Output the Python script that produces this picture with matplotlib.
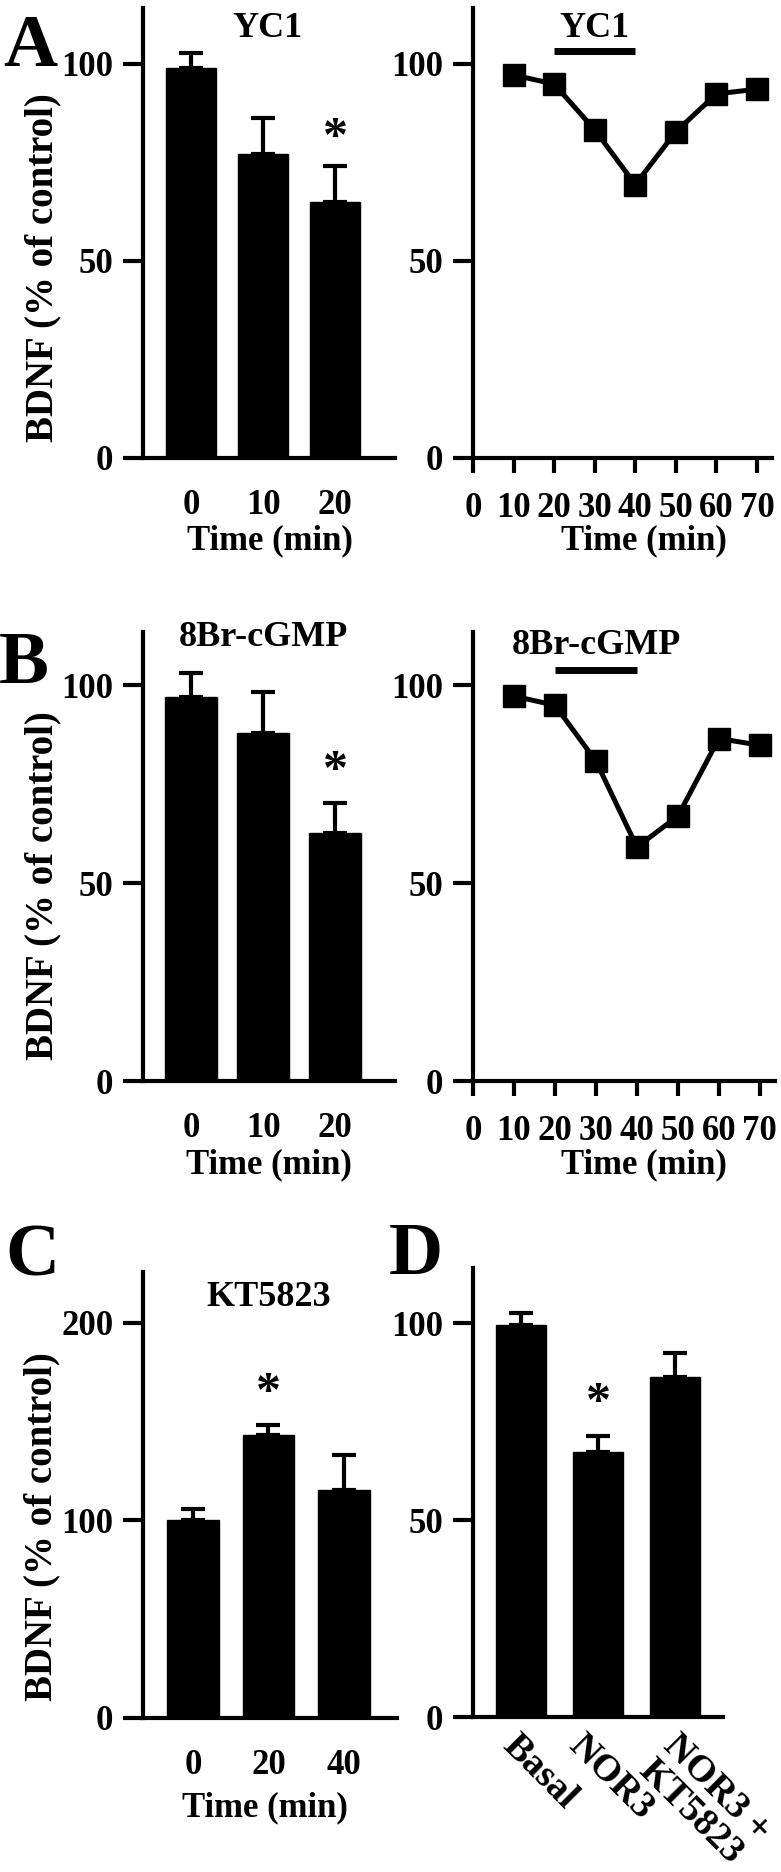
import matplotlib
matplotlib.use('Agg')
import matplotlib.pyplot as plt
from matplotlib.transforms import ScaledTranslation

plt.rcParams['font.family'] = ['Liberation Serif', 'DejaVu Serif']
plt.rcParams['font.weight'] = 'bold'
plt.rcParams['axes.labelweight'] = 'bold'

# ---------------- data ----------------
a_bar_labels = ['0', '10', '20']
a_bar_values = [99.0, 77.2, 64.9]
a_bar_errors = [3.7, 9.0, 9.3]

a_times = [10, 20, 30, 40, 50, 60, 70]
a_time_values = [97.2, 94.9, 83.3, 69.4, 82.8, 92.4, 93.6]

b_bar_labels = ['0', '10', '20']
b_bar_values = [97.0, 87.9, 62.7]
b_bar_errors = [6.0, 10.3, 7.5]

b_times = [10, 20, 30, 40, 50, 60, 70]
b_time_values = [97.2, 94.9, 80.8, 59.1, 66.9, 86.5, 84.8]

c_labels = ['0', '20', '40']
c_values = [100.0, 143.3, 115.3]
c_errors = [5.8, 5.1, 17.9]

d_labels = ['Basal', 'NOR3', 'NOR3 +\nKT5823']
d_values = [99.6, 67.3, 86.3]
d_errors = [3.1, 4.0, 6.1]

drug_window = [20, 40]
time_ticks = [0, 10, 20, 30, 40, 50, 60, 70]

# ---------------- layout ----------------
W, H = 781, 1872
fig = plt.figure(figsize=(W / 100, H / 100), dpi=100)
FS = 25
LW = 3.0
BOLD = 'bold'


def px_axes(x0, x1, y0, y1):
    return fig.add_axes([x0 / W, 1 - y1 / H, (x1 - x0) / W, (y1 - y0) / H])


def style(ax):
    for s in ['top', 'right']:
        ax.spines[s].set_visible(False)
    for s in ['left', 'bottom']:
        ax.spines[s].set_linewidth(LW)
    ax.tick_params(axis='y', length=14.4, width=LW, pad=7, labelsize=FS,
                   direction='out')


def fig_label_coords(ax, axis, xpx, ypx):
    bb = ax.get_position()
    fx, fy = xpx / W, 1 - ypx / H
    axis.set_label_coords((fx - bb.x0) / bb.width, (fy - bb.y0) / bb.height)


def star(ax, x, y, fs=36):
    off = ScaledTranslation(0, -0.237 * fs / 72, fig.dpi_scale_trans)
    ax.text(x, y, '*', ha='center', va='center', fontsize=fs,
            fontweight=BOLD, transform=ax.transData + off)


def bar_panel(ax, labels, values, errors, width, xlim, ylim, yticks):
    xs = list(range(len(values)))
    ax.bar(xs, values, width=width, color='black', edgecolor='black')
    ax.errorbar(xs, values, yerr=[[0] * len(values), errors], fmt='none',
                ecolor='black', elinewidth=LW, capsize=8.6, capthick=LW)
    ax.set_xlim(*xlim)
    ax.set_ylim(*ylim)
    ax.set_yticks(yticks)
    ax.set_xticks(xs, labels)
    style(ax)
    ax.tick_params(axis='x', length=0, pad=22, labelsize=FS)


def time_panel(ax, times, values, ylim, bar_y, title, title_y):
    ax.plot(times, values, color='black', lw=3.6, marker='s', ms=16.5,
            mfc='black', mec='black', clip_on=False)
    ax.plot(drug_window, [bar_y, bar_y], color='black', lw=5,
            solid_capstyle='butt')
    ax.text(30, title_y, title, ha='center', va='center', fontsize=FS + 1,
            fontweight=BOLD)
    ax.set_xlim(0, 73.7)
    ax.set_ylim(*ylim)
    ax.set_yticks([0, 50, 100])
    ax.set_xticks(time_ticks)
    style(ax)
    ax.tick_params(axis='x', length=10.8, width=LW, pad=14, labelsize=FS)


YL_FS = 28

# ---------- Panel A ----------
axA1 = px_axes(143, 395, 8, 458)
bar_panel(axA1, a_bar_labels, a_bar_values, a_bar_errors, 0.69,
          (-0.667, 2.83), (0, 114.2), [0, 50, 100])
axA1.text(1.06, 109, 'YC1', ha='center', va='center', fontsize=FS + 1,
          fontweight=BOLD)
star(axA1, 2, 84)
axA1.set_ylabel('BDNF (% of control)', fontsize=YL_FS, va='center', ha='center')
fig_label_coords(axA1, axA1.yaxis, 43, 268)
axA1.set_xlabel('Time (min)', fontsize=FS, va='center')
fig_label_coords(axA1, axA1.xaxis, 270, 541)

axA2 = px_axes(473, 772, 8, 458)
time_panel(axA2, a_times, a_time_values, (0, 114.2), 103.2, 'YC1', 108.9)
axA2.set_xlabel('Time (min)', fontsize=FS, va='center')
fig_label_coords(axA2, axA2.xaxis, 644, 541)

# ---------- Panel B ----------
axB1 = px_axes(143, 395, 632, 1081)
bar_panel(axB1, b_bar_labels, b_bar_values, b_bar_errors, 0.72,
          (-0.667, 2.83), (0, 113.4), [0, 50, 100])
axB1.text(1.0, 111.9, '8Br-cGMP', ha='center', va='center', fontsize=FS + 1,
          fontweight=BOLD)
star(axB1, 2, 81)
axB1.set_ylabel('BDNF (% of control)', fontsize=YL_FS, va='center', ha='center')
fig_label_coords(axB1, axB1.yaxis, 43, 886)
axB1.set_xlabel('Time (min)', fontsize=FS, va='center')
fig_label_coords(axB1, axB1.xaxis, 269, 1165)

axB2 = px_axes(473, 775, 632, 1081)
time_panel(axB2, b_times, b_time_values, (0, 113.4), 103.8, '8Br-cGMP', 110.0)
axB2.set_xlabel('Time (min)', fontsize=FS, va='center')
fig_label_coords(axB2, axB2.xaxis, 644, 1165)

# ---------- Panel C ----------
axC = px_axes(143, 397, 1272, 1718)
bar_panel(axC, c_labels, c_values, c_errors, 0.68,
          (-0.66, 2.70), (0, 225.8), [0, 100, 200])
axC.text(1.0, 213, 'KT5823', ha='center', va='center', fontsize=FS + 1,
         fontweight=BOLD)
star(axC, 1, 170)
axC.set_ylabel('BDNF (% of control)', fontsize=YL_FS, va='center', ha='center')
fig_label_coords(axC, axC.yaxis, 42, 1527)
axC.set_xlabel('Time (min)', fontsize=FS, va='center')
fig_label_coords(axC, axC.xaxis, 265, 1808)

# ---------- Panel D ----------
axD = px_axes(473, 723, 1268, 1717)
bar_panel(axD, d_labels, d_values, d_errors, 0.65,
          (-0.62, 2.62), (0, 114), [0, 50, 100])
star(axD, 1, 82.5)
axD.tick_params(axis='x', pad=8, labelsize=27.5)
shifts = [0, -12, 6]
for lab, dx in zip(axD.get_xticklabels(), shifts):
    lab.set_rotation(-45)
    lab.set_ha('left')
    lab.set_va('top')
    lab.set_rotation_mode('anchor')
    lab.set_linespacing(1.0)
    lab.set_fontweight(BOLD)
    lab.set_transform(lab.get_transform() +
                      ScaledTranslation(dx / 100, 0, fig.dpi_scale_trans))

# ---------- panel letters ----------
for letter, x, y in [('A', 3, 66), ('B', -1, 683), ('C', 5, 1276), ('D', 389, 1274)]:
    fig.text(x / W, 1 - y / H, letter, fontsize=54, fontweight=BOLD,
             ha='left', va='baseline')

fig.savefig('out.png', dpi=100, facecolor='white')
